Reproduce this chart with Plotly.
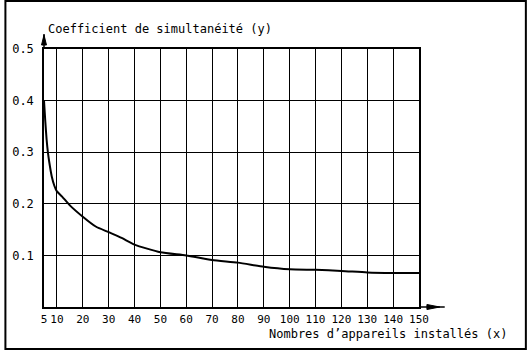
import plotly.graph_objects as go

# Data
x_ticks = [5, 10, 20, 30, 40, 50, 60, 70, 80, 90, 100, 110, 120, 130, 140, 150]
x_tick_labels = [str(v) for v in x_ticks]
y_ticks = [0.1, 0.2, 0.3, 0.4, 0.5]
y_tick_labels = ["0.1", "0.2", "0.3", "0.4", "0.5"]

appareils = [5, 5.5, 6, 6.5, 7, 8, 9, 10, 12, 15, 20, 25, 30, 35, 40, 50,
             60, 70, 80, 90, 100, 110, 120, 130, 140, 150]
coefficient = [0.40, 0.36, 0.325, 0.30, 0.282, 0.253, 0.235, 0.224, 0.214, 0.197,
               0.175, 0.156, 0.145, 0.134, 0.121, 0.106, 0.100, 0.091, 0.086,
               0.078, 0.073, 0.072, 0.070, 0.067, 0.066, 0.066]

FONT = "DejaVu Sans Mono"

fig = go.Figure()
fig.add_trace(go.Scatter(
    x=appareils, y=coefficient, mode="lines",
    line=dict(color="black", width=2, shape="spline", smoothing=0.6),
    hoverinfo="skip", showlegend=False,
))

fig.update_layout(
    width=528, height=350,
    margin=dict(l=40, r=109, t=49, b=43),
    paper_bgcolor="white", plot_bgcolor="white",
    font=dict(family=FONT, color="black", size=12),
    xaxis=dict(
        range=[5, 150], tickvals=x_ticks, ticktext=x_tick_labels,
        showgrid=True, gridcolor="black", gridwidth=1,
        showline=True, linecolor="black", linewidth=1.5, mirror=True,
        zeroline=False, ticks="", ticklabelstandoff=1,
        tickfont=dict(family=FONT, size=11, color="black"),
        fixedrange=True,
    ),
    yaxis=dict(
        range=[0, 0.5], tickvals=y_ticks, ticktext=y_tick_labels,
        showgrid=True, gridcolor="black", gridwidth=1,
        showline=True, linecolor="black", linewidth=1.5, mirror=True,
        zeroline=False, ticks="", ticklabelstandoff=6,
        tickfont=dict(family=FONT, size=12, color="black"),
        fixedrange=True,
    ),
)

def px(p):
    return (p - 40) / 379.0

def py(p):
    return (307 - p) / 258.0

shapes = [
    # outer frame
    dict(type="rect", xref="paper", yref="paper",
         x0=px(1), x1=px(527), y0=py(349), y1=py(1),
         line=dict(color="black", width=2), fillcolor="rgba(0,0,0,0)", layer="above"),
    # y axis extension + arrow
    dict(type="line", xref="paper", yref="paper", x0=0, x1=0, y0=1, y1=py(34),
         line=dict(color="black", width=1.5)),
    dict(type="path", xref="paper", yref="paper",
         path=f"M{px(37.5)},{py(45)} L{px(40)},{py(35)} L{px(42.5)},{py(45)} Z",
         fillcolor="black", line=dict(color="black", width=1)),
    # x axis extension + arrow
    dict(type="line", xref="paper", yref="paper", x0=1, x1=px(445), y0=0, y1=0,
         line=dict(color="black", width=1.5)),
    dict(type="path", xref="paper", yref="paper",
         path=f"M{px(427)},{py(304.5)} L{px(440)},{py(307)} L{px(427)},{py(309.5)} Z",
         fillcolor="black", line=dict(color="black", width=1)),
]
fig.update_layout(shapes=shapes)

fig.add_annotation(
    text="Coefficient de simultanéité (y)", xref="paper", yref="paper",
    x=px(42), y=py(29), xanchor="left", yanchor="middle", showarrow=False,
    font=dict(family=FONT, size=12, color="black"),
)
fig.add_annotation(
    text="Nombres d’appareils installés (x)", xref="paper", yref="paper",
    x=px(510), y=py(334), xanchor="right", yanchor="middle", showarrow=False,
    font=dict(family=FONT, size=12, color="black"),
)

fig.write_html("out.html")
